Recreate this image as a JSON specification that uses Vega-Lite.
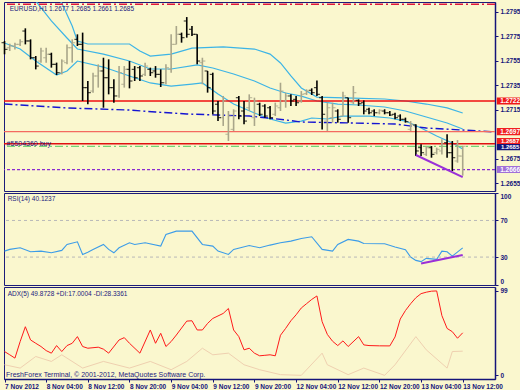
{
  "$schema": "https://vega.github.io/schema/vega-lite/v6.json",
  "background": "#FAF7CE",
  "padding": {"left": 1, "top": 1, "right": 0, "bottom": 0},
  "spacing": 2,
  "bounds": "flush",
  "data": {"values": [{"one": 1}]},
  "config": {
    "view": {"stroke": "#1C1C7A", "strokeWidth": 1},
    "axis": {"grid": false},
    "text": {"font": "Liberation Sans", "color": "#1A1A7E"}
  },
  "datasets": {
    "bars": [
      {"i":0,"o":1.27696,"h":1.27710,"l":1.27601,"c":1.27641},
      {"i":1,"o":1.27655,"h":1.27688,"l":1.27628,"c":1.27669},
      {"i":2,"o":1.27669,"h":1.27696,"l":1.27641,"c":1.27682},
      {"i":3,"o":1.27682,"h":1.27723,"l":1.27669,"c":1.27704},
      {"i":4,"o":1.27791,"h":1.27813,"l":1.27682,"c":1.27710},
      {"i":5,"o":1.27710,"h":1.27723,"l":1.27560,"c":1.27573},
      {"i":6,"o":1.27573,"h":1.27587,"l":1.27478,"c":1.27505},
      {"i":7,"o":1.27546,"h":1.27655,"l":1.27533,"c":1.27628},
      {"i":8,"o":1.27573,"h":1.27655,"l":1.27533,"c":1.27601},
      {"i":9,"o":1.27601,"h":1.27614,"l":1.27492,"c":1.27519},
      {"i":10,"o":1.27519,"h":1.27533,"l":1.27432,"c":1.27451},
      {"i":11,"o":1.27451,"h":1.27560,"l":1.27437,"c":1.27546},
      {"i":12,"o":1.27533,"h":1.27682,"l":1.27519,"c":1.27655},
      {"i":13,"o":1.27655,"h":1.27723,"l":1.27533,"c":1.27696},
      {"i":14,"o":1.27723,"h":1.27764,"l":1.27669,"c":1.27682},
      {"i":15,"o":1.27682,"h":1.27778,"l":1.27220,"c":1.27329},
      {"i":16,"o":1.27329,"h":1.27383,"l":1.27193,"c":1.27288},
      {"i":17,"o":1.27301,"h":1.27451,"l":1.27288,"c":1.27424},
      {"i":18,"o":1.27424,"h":1.27519,"l":1.27329,"c":1.27465},
      {"i":19,"o":1.27465,"h":1.27573,"l":1.27165,"c":1.27410},
      {"i":20,"o":1.27410,"h":1.27560,"l":1.27274,"c":1.27329},
      {"i":21,"o":1.27329,"h":1.27397,"l":1.27206,"c":1.27261},
      {"i":22,"o":1.27261,"h":1.27505,"l":1.27247,"c":1.27451},
      {"i":23,"o":1.27356,"h":1.27505,"l":1.27329,"c":1.27478},
      {"i":24,"o":1.27478,"h":1.27546,"l":1.27323,"c":1.27383},
      {"i":25,"o":1.27478,"h":1.27505,"l":1.27383,"c":1.27410},
      {"i":26,"o":1.27492,"h":1.27505,"l":1.27383,"c":1.27424},
      {"i":27,"o":1.27437,"h":1.27533,"l":1.27424,"c":1.27505},
      {"i":28,"o":1.27478,"h":1.27492,"l":1.27424,"c":1.27451},
      {"i":29,"o":1.27465,"h":1.27505,"l":1.27410,"c":1.27437},
      {"i":30,"o":1.27437,"h":1.27478,"l":1.27334,"c":1.27369},
      {"i":31,"o":1.27369,"h":1.27519,"l":1.27356,"c":1.27492},
      {"i":32,"o":1.27478,"h":1.27764,"l":1.27451,"c":1.27682},
      {"i":33,"o":1.27682,"h":1.27832,"l":1.27682,"c":1.27764},
      {"i":34,"o":1.27764,"h":1.27778,"l":1.27696,"c":1.27737},
      {"i":35,"o":1.27873,"h":1.27905,"l":1.27737,"c":1.27764},
      {"i":36,"o":1.27805,"h":1.27832,"l":1.27750,"c":1.27764},
      {"i":37,"o":1.27764,"h":1.27764,"l":1.27519,"c":1.27546},
      {"i":38,"o":1.27533,"h":1.27573,"l":1.27356,"c":1.27546},
      {"i":39,"o":1.27465,"h":1.27465,"l":1.27288,"c":1.27329},
      {"i":40,"o":1.27437,"h":1.27451,"l":1.27111,"c":1.27138},
      {"i":41,"o":1.27193,"h":1.27220,"l":1.27056,"c":1.27084},
      {"i":42,"o":1.27084,"h":1.27261,"l":1.27016,"c":1.27220},
      {"i":43,"o":1.26948,"h":1.27138,"l":1.26893,"c":1.27097},
      {"i":44,"o":1.26988,"h":1.27152,"l":1.26975,"c":1.27138},
      {"i":45,"o":1.27247,"h":1.27261,"l":1.27070,"c":1.27097},
      {"i":46,"o":1.27138,"h":1.27220,"l":1.27029,"c":1.27056},
      {"i":47,"o":1.27165,"h":1.27274,"l":1.27138,"c":1.27247},
      {"i":48,"o":1.27084,"h":1.27247,"l":1.27016,"c":1.27220},
      {"i":49,"o":1.27193,"h":1.27206,"l":1.27097,"c":1.27111},
      {"i":50,"o":1.27179,"h":1.27193,"l":1.27084,"c":1.27097},
      {"i":51,"o":1.27165,"h":1.27179,"l":1.27070,"c":1.27084},
      {"i":52,"o":1.27111,"h":1.27206,"l":1.27097,"c":1.27179},
      {"i":53,"o":1.27165,"h":1.27369,"l":1.27138,"c":1.27301},
      {"i":54,"o":1.27220,"h":1.27288,"l":1.27165,"c":1.27261},
      {"i":55,"o":1.27261,"h":1.27274,"l":1.27179,"c":1.27220},
      {"i":56,"o":1.27233,"h":1.27261,"l":1.27179,"c":1.27206},
      {"i":57,"o":1.27220,"h":1.27301,"l":1.27206,"c":1.27274},
      {"i":58,"o":1.27280,"h":1.27315,"l":1.27269,"c":1.27301},
      {"i":59,"o":1.27307,"h":1.27323,"l":1.27269,"c":1.27288},
      {"i":60,"o":1.27329,"h":1.27388,"l":1.27261,"c":1.27274},
      {"i":61,"o":1.27247,"h":1.27261,"l":1.26988,"c":1.27111},
      {"i":62,"o":1.27056,"h":1.27206,"l":1.26975,"c":1.27165},
      {"i":63,"o":1.27084,"h":1.27206,"l":1.27043,"c":1.27165},
      {"i":64,"o":1.27138,"h":1.27152,"l":1.27043,"c":1.27070},
      {"i":65,"o":1.27097,"h":1.27296,"l":1.27097,"c":1.27261},
      {"i":66,"o":1.27247,"h":1.27247,"l":1.27043,"c":1.27084},
      {"i":67,"o":1.27206,"h":1.27342,"l":1.27193,"c":1.27288},
      {"i":68,"o":1.27225,"h":1.27233,"l":1.27179,"c":1.27198},
      {"i":69,"o":1.27206,"h":1.27225,"l":1.27111,"c":1.27138},
      {"i":70,"o":1.27152,"h":1.27165,"l":1.27111,"c":1.27124},
      {"i":71,"o":1.27138,"h":1.27152,"l":1.27097,"c":1.27124},
      {"i":72,"o":1.27124,"h":1.27152,"l":1.27111,"c":1.27144},
      {"i":73,"o":1.27138,"h":1.27152,"l":1.27111,"c":1.27124},
      {"i":74,"o":1.27124,"h":1.27138,"l":1.27097,"c":1.27105},
      {"i":75,"o":1.27111,"h":1.27124,"l":1.27070,"c":1.27084},
      {"i":76,"o":1.27097,"h":1.27111,"l":1.27056,"c":1.27070},
      {"i":77,"o":1.27070,"h":1.27084,"l":1.27043,"c":1.27051},
      {"i":78,"o":1.26988,"h":1.27056,"l":1.26975,"c":1.27029},
      {"i":79,"o":1.27024,"h":1.27029,"l":1.26771,"c":1.26812},
      {"i":80,"o":1.26839,"h":1.26866,"l":1.26771,"c":1.26798},
      {"i":81,"o":1.26784,"h":1.26852,"l":1.26771,"c":1.26839},
      {"i":82,"o":1.26839,"h":1.26852,"l":1.26757,"c":1.26784},
      {"i":83,"o":1.26798,"h":1.26839,"l":1.26784,"c":1.26825},
      {"i":84,"o":1.26812,"h":1.26907,"l":1.26784,"c":1.26866},
      {"i":85,"o":1.26880,"h":1.26948,"l":1.26757,"c":1.26798},
      {"i":86,"o":1.26798,"h":1.26893,"l":1.26648,"c":1.26757},
      {"i":87,"o":1.26730,"h":1.26901,"l":1.26716,"c":1.26771},
      {"i":88,"o":1.2677,"h":1.2685,"l":1.2661,"c":1.2685}
    ],
    "bands": [
      {"i":0,"b":"upper","p":1.28607},{"i":5,"b":"upper","p":1.28322},{"i":8,"b":"upper","p":1.28158},{"i":11,"b":"upper","p":1.28020},{"i":13,"b":"upper","p":1.27832},{"i":14,"b":"upper","p":1.27710},{"i":16,"b":"upper","p":1.27685},{"i":24,"b":"upper","p":1.27685},{"i":26,"b":"upper","p":1.27628},{"i":28,"b":"upper","p":1.27587},{"i":32,"b":"upper","p":1.27603},{"i":36,"b":"upper","p":1.27652},{"i":42,"b":"upper","p":1.27661},{"i":48,"b":"upper","p":1.27644},{"i":51,"b":"upper","p":1.27603},{"i":53,"b":"upper","p":1.27530},{"i":55,"b":"upper","p":1.27424},{"i":57,"b":"upper","p":1.27326},{"i":60,"b":"upper","p":1.27252},{"i":67,"b":"upper","p":1.27244},{"i":73,"b":"upper","p":1.27236},{"i":77,"b":"upper","p":1.27220},{"i":81,"b":"upper","p":1.27195},{"i":85,"b":"upper","p":1.27163},{"i":88,"b":"upper","p":1.27122},
      {"i":0,"b":"middle","p":1.28158},{"i":6,"b":"middle","p":1.28036},{"i":9,"b":"middle","p":1.27873},{"i":12,"b":"middle","p":1.27734},{"i":14,"b":"middle","p":1.27644},{"i":19,"b":"middle","p":1.27603},{"i":24,"b":"middle","p":1.27546},{"i":28,"b":"middle","p":1.27481},{"i":32,"b":"middle","p":1.27481},{"i":37,"b":"middle","p":1.27514},{"i":40,"b":"middle","p":1.27489},{"i":44,"b":"middle","p":1.27440},{"i":48,"b":"middle","p":1.27383},{"i":51,"b":"middle","p":1.27326},{"i":54,"b":"middle","p":1.27285},{"i":57,"b":"middle","p":1.27260},{"i":60,"b":"middle","p":1.27220},{"i":64,"b":"middle","p":1.27195},{"i":68,"b":"middle","p":1.27187},{"i":73,"b":"middle","p":1.27171},{"i":77,"b":"middle","p":1.27138},{"i":81,"b":"middle","p":1.27089},{"i":85,"b":"middle","p":1.27040},{"i":88,"b":"middle","p":1.26991},
      {"i":0,"b":"lower","p":1.27693},{"i":3,"b":"lower","p":1.27644},{"i":6,"b":"lower","p":1.27546},{"i":10,"b":"lower","p":1.27432},{"i":12,"b":"lower","p":1.27465},{"i":14,"b":"lower","p":1.27546},{"i":19,"b":"lower","p":1.27497},{"i":24,"b":"lower","p":1.27424},{"i":28,"b":"lower","p":1.27367},{"i":32,"b":"lower","p":1.27342},{"i":36,"b":"lower","p":1.27358},{"i":38,"b":"lower","p":1.27367},{"i":41,"b":"lower","p":1.27277},{"i":44,"b":"lower","p":1.27195},{"i":48,"b":"lower","p":1.27122},{"i":51,"b":"lower","p":1.27073},{"i":54,"b":"lower","p":1.27040},{"i":57,"b":"lower","p":1.27056},{"i":59,"b":"lower","p":1.27081},{"i":62,"b":"lower","p":1.27073},{"i":65,"b":"lower","p":1.27097},{"i":70,"b":"lower","p":1.27097},{"i":74,"b":"lower","p":1.27081},{"i":77,"b":"lower","p":1.27056},{"i":80,"b":"lower","p":1.26999},{"i":83,"b":"lower","p":1.26934},{"i":86,"b":"lower","p":1.26877},{"i":88,"b":"lower","p":1.26828}
    ],
    "ma": [
      {"i":0,"p":1.27195},{"i":12,"p":1.27163},{"i":24,"p":1.27146},{"i":29,"p":1.27130},{"i":35,"p":1.27114},{"i":41,"p":1.27105},{"i":47,"p":1.27097},{"i":54,"p":1.27065},{"i":57,"p":1.27048},{"i":67,"p":1.27040},{"i":75,"p":1.27032},{"i":81,"p":1.26999},{"i":88,"p":1.26983},{"i":94,"p":1.26967}
    ],
    "rsi": [
      {"i":0,"v":36.5},{"i":1,"v":38.4},{"i":3,"v":40.2},{"i":5,"v":35.8},{"i":7,"v":36.5},{"i":9,"v":34.7},{"i":11,"v":37.3},{"i":12,"v":43.8},{"i":14,"v":46.7},{"i":15,"v":32.9},{"i":16,"v":35.4},{"i":17,"v":38.4},{"i":19,"v":43.8},{"i":20,"v":38.4},{"i":21,"v":34.7},{"i":22,"v":40.2},{"i":24,"v":45.6},{"i":25,"v":43.8},{"i":27,"v":45.6},{"i":30,"v":42.0},{"i":31,"v":54.7},{"i":33,"v":58.3},{"i":36,"v":58.3},{"i":38,"v":43.8},{"i":40,"v":42.0},{"i":41,"v":36.5},{"i":43,"v":32.9},{"i":44,"v":38.4},{"i":47,"v":42.7},{"i":49,"v":40.2},{"i":51,"v":43.1},{"i":53,"v":45.6},{"i":55,"v":47.4},{"i":57,"v":50.3},{"i":59,"v":52.2},{"i":61,"v":38.4},{"i":63,"v":36.5},{"i":64,"v":43.8},{"i":66,"v":49.3},{"i":68,"v":47.4},{"i":69,"v":44.9},{"i":73,"v":44.5},{"i":75,"v":41.0},{"i":77,"v":38.0},{"i":78,"v":30.0},{"i":79,"v":26.4},{"i":80,"v":25.0},{"i":81,"v":28.6},{"i":83,"v":27.5},{"i":84,"v":36.5},{"i":85,"v":35.8},{"i":86,"v":31.1},{"i":88,"v":40.1237}
    ],
    "adx": [
      {"i":0,"v":27.9},{"i":1,"v":24.1},{"i":2,"v":20.2},{"i":3,"v":39.6},{"i":4,"v":57},{"i":5,"v":41.5},{"i":6,"v":37.6},{"i":7,"v":33.8},{"i":8,"v":29},{"i":9,"v":26},{"i":10,"v":34.9},{"i":11,"v":27.9},{"i":12,"v":34.9},{"i":13,"v":37.6},{"i":14,"v":45.4},{"i":15,"v":33.8},{"i":16,"v":31.8},{"i":18,"v":33},{"i":19,"v":30.7},{"i":20,"v":26},{"i":22,"v":41.5},{"i":23,"v":44.2},{"i":24,"v":37.6},{"i":26,"v":26},{"i":28,"v":53.2},{"i":29,"v":37.6},{"i":30,"v":49.3},{"i":31,"v":33.8},{"i":32,"v":39.6},{"i":33,"v":47.3},{"i":35,"v":63.6},{"i":36,"v":64},{"i":37,"v":53.2},{"i":38,"v":53.2},{"i":39,"v":60.9},{"i":40,"v":66.7},{"i":42,"v":72.6},{"i":43,"v":78.4},{"i":44,"v":53.2},{"i":45,"v":45.4},{"i":46,"v":29.9},{"i":47,"v":31.8},{"i":48,"v":26},{"i":49,"v":22.9},{"i":50,"v":23.5},{"i":51,"v":24.1},{"i":52,"v":22.9},{"i":53,"v":47},{"i":54,"v":55.1},{"i":55,"v":64},{"i":56,"v":71},{"i":57,"v":79},{"i":58,"v":84},{"i":59,"v":89},{"i":60,"v":93.1},{"i":61,"v":62.9},{"i":62,"v":48},{"i":63,"v":40},{"i":64,"v":34.9},{"i":65,"v":40.4},{"i":66,"v":33.8},{"i":68,"v":45.4},{"i":69,"v":35.7},{"i":70,"v":34.9},{"i":72,"v":34.6},{"i":74,"v":34.5},{"i":75,"v":45},{"i":76,"v":66},{"i":77,"v":76},{"i":78,"v":84},{"i":79,"v":91},{"i":80,"v":95.8},{"i":81,"v":97.5},{"i":82,"v":98.7},{"i":83,"v":99},{"i":84,"v":70},{"i":85,"v":55},{"i":86,"v":51.2},{"i":87,"v":43.5},{"i":88,"v":49.8728}
    ],
    "di": [
      {"i":0,"v":12.4},{"i":3,"v":8.5},{"i":6,"v":22.1},{"i":9,"v":16.3},{"i":11,"v":24.1},{"i":15,"v":8.5},{"i":19,"v":16.3},{"i":24,"v":8.5},{"i":28,"v":16.3},{"i":32,"v":6.6},{"i":35,"v":16.3},{"i":38,"v":31.8},{"i":40,"v":24.1},{"i":43,"v":26},{"i":46,"v":12.4},{"i":49,"v":6.6},{"i":53,"v":0.8},{"i":57,"v":0},{"i":61,"v":26},{"i":62,"v":12.4},{"i":66,"v":0.8},{"i":69,"v":8.5},{"i":73,"v":0},{"i":75,"v":12.4},{"i":79,"v":45.4},{"i":81,"v":29.9},{"i":85,"v":8.5},{"i":86,"v":27.9},{"i":88,"v":28.3361}
    ],
    "ptrend": [{"i":79,"p":1.26779},{"i":88,"p":1.26599}],
    "rtrend": [{"i":80,"v":23.1},{"i":88,"v":32.2}]
  },
  "vconcat": [
    {
      "width": 491,
      "height": 189,
      "resolve": {"axis": {"x": "independent", "y": "independent"}},
      "layer": [
        {
          "data": {"name": "bands"},
          "mark": {"type": "line", "clip": true, "color": "#3CB4E6", "strokeWidth": 1.2},
          "encoding": {
            "x": {"field": "i", "type": "quantitative", "scale": {"domain": [-0.1, 94.2], "nice": false, "zero": false}, "axis": null},
            "y": {"field": "p", "type": "quantitative", "scale": {"domain": [1.26485, 1.28028], "nice": false, "zero": false},
                  "axis": {"orient": "right", "title": null, "grid": false, "values": [1.2655, 1.2675, 1.2715, 1.2735, 1.2755, 1.2775, 1.2795], "format": ".4f", "labelFont": "Liberation Sans", "labelFontSize": 6.5, "labelFontWeight": "bold", "labelColor": "#14147A", "domainColor": "#14147A", "tickColor": "#14147A", "domainWidth": 1.5, "tickSize": 3, "labelPadding": 2, "labelOverlap": false, "labelBound": false, "labelFlush": false, "zindex": 0}},
            "detail": {"field": "b", "type": "nominal"}
          }
        },
        {
          "data": {"name": "ma"},
          "mark": {"type": "line", "clip": true, "color": "#1414D2", "strokeWidth": 1.4, "strokeDash": [8, 3, 2, 3]},
          "encoding": {
            "x": {"field": "i", "type": "quantitative", "axis": null},
            "y": {"field": "p", "type": "quantitative", "axis": null}
          }
        },
        {"mark": {"type": "rule", "color": "#E0183C", "strokeWidth": 1.5, "strokeDash": [8, 3, 2, 3]}, "encoding": {"y": {"datum": 1.2801, "type": "quantitative", "axis": null}}},
        {"mark": {"type": "rule", "color": "#F01010", "strokeWidth": 1.5}, "encoding": {"y": {"datum": 1.2722, "type": "quantitative", "axis": null}}},
        {"mark": {"type": "rule", "color": "#F46A60", "strokeWidth": 1.3}, "encoding": {"y": {"datum": 1.2697, "type": "quantitative", "axis": null}}},
        {"mark": {"type": "rule", "color": "#E01010", "strokeWidth": 1.5}, "encoding": {"y": {"datum": 1.2687, "type": "quantitative", "axis": null}}},
        {"mark": {"type": "rule", "color": "#74D474", "strokeWidth": 1.2, "strokeDash": [8, 3, 2, 3]}, "encoding": {"y": {"datum": 1.2685, "type": "quantitative", "axis": null}}},
        {"mark": {"type": "rule", "color": "#8A2BD2", "strokeWidth": 1.2, "strokeDash": [3, 2]}, "encoding": {"y": {"datum": 1.2666, "type": "quantitative", "axis": null}}},
        {
          "data": {"name": "bars"},
          "transform": [{"calculate": "datum.c >= datum.o ? 'up' : 'down'", "as": "dir"}],
          "encoding": {
            "x": {"field": "i", "type": "quantitative", "axis": null},
            "color": {"field": "dir", "type": "nominal", "scale": {"domain": ["up", "down"], "range": ["#A9A68A", "#000000"]}, "legend": null}
          },
          "layer": [
            {
              "mark": {"type": "rule", "strokeWidth": 1.6},
              "encoding": {
                "y": {"field": "l", "type": "quantitative", "axis": null},
                "y2": {"field": "h"}
              }
            },
            {
              "mark": {"type": "tick", "orient": "horizontal", "size": 3, "thickness": 1.2, "xOffset": -1.5},
              "encoding": {"y": {"field": "o", "type": "quantitative", "axis": null}}
            },
            {
              "mark": {"type": "tick", "orient": "horizontal", "size": 3, "thickness": 1.2, "xOffset": 1.5},
              "encoding": {"y": {"field": "c", "type": "quantitative", "axis": null}}
            }
          ]
        },
        {
          "data": {"name": "ptrend"},
          "mark": {"type": "line", "color": "#9A30D8", "strokeWidth": 2},
          "encoding": {
            "x": {"field": "i", "type": "quantitative", "axis": null},
            "y": {"field": "p", "type": "quantitative", "axis": null}
          }
        },
        {
          "mark": {"type": "text", "align": "left", "baseline": "middle", "fontSize": 6.5},
          "encoding": {
            "x": {"datum": 1.0, "type": "quantitative", "axis": null},
            "y": {"datum": 1.2797, "type": "quantitative", "axis": null},
            "text": {"value": "EURUSD,H1  1.2677 1.2685 1.2661 1.2685"}
          }
        },
        {
          "mark": {"type": "text", "align": "left", "baseline": "middle", "fontSize": 7},
          "encoding": {
            "x": {"datum": 0.4, "type": "quantitative", "axis": null},
            "y": {"datum": 1.2687, "type": "quantitative", "axis": null},
            "text": {"value": "#5504360 buy"}
          }
        },
        {"mark": {"type": "rect", "color": "#F01818"}, "encoding": {"x": {"datum": 94.55, "type": "quantitative", "axis": null}, "x2": {"datum": 99.6}, "y": {"datum": 1.27249, "type": "quantitative", "axis": null}, "y2": {"datum": 1.27191}}},
        {"mark": {"type": "text", "color": "#FFFFFF", "fontSize": 6.5, "fontWeight": "bold", "align": "center", "baseline": "middle"}, "encoding": {"x": {"datum": 97.1, "type": "quantitative", "axis": null}, "y": {"datum": 1.2722, "type": "quantitative", "axis": null}, "text": {"value": "1.2722"}}},
        {"mark": {"type": "rect", "color": "#F02020"}, "encoding": {"x": {"datum": 94.55, "type": "quantitative", "axis": null}, "x2": {"datum": 99.6}, "y": {"datum": 1.26999, "type": "quantitative", "axis": null}, "y2": {"datum": 1.26941}}},
        {"mark": {"type": "text", "color": "#FFFFFF", "fontSize": 6.5, "fontWeight": "bold", "align": "center", "baseline": "middle"}, "encoding": {"x": {"datum": 97.1, "type": "quantitative", "axis": null}, "y": {"datum": 1.2697, "type": "quantitative", "axis": null}, "text": {"value": "1.2697"}}},
        {"mark": {"type": "rect", "color": "#F02020"}, "encoding": {"x": {"datum": 94.55, "type": "quantitative", "axis": null}, "x2": {"datum": 99.6}, "y": {"datum": 1.26918, "type": "quantitative", "axis": null}, "y2": {"datum": 1.26869}}},
        {"mark": {"type": "text", "color": "#FFFFFF", "fontSize": 6, "fontWeight": "bold", "align": "center", "baseline": "middle"}, "encoding": {"x": {"datum": 97.1, "type": "quantitative", "axis": null}, "y": {"datum": 1.26895, "type": "quantitative", "axis": null}, "text": {"value": "1.2687"}}},
        {"mark": {"type": "rect", "color": "#14147A"}, "encoding": {"x": {"datum": 94.55, "type": "quantitative", "axis": null}, "x2": {"datum": 99.6}, "y": {"datum": 1.26869, "type": "quantitative", "axis": null}, "y2": {"datum": 1.26818}}},
        {"mark": {"type": "text", "color": "#FFFFFF", "fontSize": 6, "fontWeight": "bold", "align": "center", "baseline": "middle"}, "encoding": {"x": {"datum": 97.1, "type": "quantitative", "axis": null}, "y": {"datum": 1.26843, "type": "quantitative", "axis": null}, "text": {"value": "1.2685"}}},
        {"mark": {"type": "rect", "color": "#A070D8"}, "encoding": {"x": {"datum": 94.55, "type": "quantitative", "axis": null}, "x2": {"datum": 99.6}, "y": {"datum": 1.26689, "type": "quantitative", "axis": null}, "y2": {"datum": 1.26631}}},
        {"mark": {"type": "text", "color": "#FFFFFF", "fontSize": 6.5, "fontWeight": "bold", "align": "center", "baseline": "middle"}, "encoding": {"x": {"datum": 97.1, "type": "quantitative", "axis": null}, "y": {"datum": 1.2666, "type": "quantitative", "axis": null}, "text": {"value": "1.2666"}}}
      ]
    },
    {
      "width": 491,
      "height": 92,
      "resolve": {"axis": {"x": "independent", "y": "independent"}},
      "layer": [
        {
          "data": {"name": "rsi"},
          "mark": {"type": "line", "color": "#3C9CE8", "strokeWidth": 1.1},
          "encoding": {
            "x": {"field": "i", "type": "quantitative", "scale": {"domain": [-0.1, 94.2], "nice": false, "zero": false}, "axis": null},
            "y": {"field": "v", "type": "quantitative", "scale": {"domain": [-0.5, 100], "nice": false, "zero": false},
                  "axis": {"orient": "right", "title": null, "grid": false, "values": [0, 30, 70, 100], "labelBaseline": {"condition": [{"test": "datum.value >= 100", "value": "top"}, {"test": "datum.value <= 0", "value": "bottom"}], "value": "middle"}, "labelFont": "Liberation Sans", "labelFontSize": 6.5, "labelFontWeight": "bold", "labelColor": "#14147A", "domainColor": "#14147A", "tickColor": "#14147A", "domainWidth": 1.5, "tickSize": 3, "labelPadding": 2, "labelOverlap": false, "labelBound": false, "labelFlush": false}}
          }
        },
        {"mark": {"type": "rule", "color": "#B8B8B8", "strokeWidth": 1, "strokeDash": [3, 3]}, "encoding": {"y": {"datum": 70, "type": "quantitative", "axis": null}}},
        {"mark": {"type": "rule", "color": "#B8B8B8", "strokeWidth": 1, "strokeDash": [3, 3]}, "encoding": {"y": {"datum": 30, "type": "quantitative", "axis": null}}},
        {
          "data": {"name": "rtrend"},
          "mark": {"type": "line", "color": "#9A30D8", "strokeWidth": 2},
          "encoding": {
            "x": {"field": "i", "type": "quantitative", "axis": null},
            "y": {"field": "v", "type": "quantitative", "axis": null}
          }
        },
        {
          "mark": {"type": "text", "align": "left", "baseline": "middle", "fontSize": 6.5},
          "encoding": {
            "x": {"datum": 0.6, "type": "quantitative", "axis": null},
            "y": {"datum": 93, "type": "quantitative", "axis": null},
            "text": {"value": "RSI(14) 40.1237"}
          }
        }
      ]
    },
    {
      "width": 491,
      "height": 92,
      "resolve": {"axis": {"x": "independent", "y": "independent"}},
      "layer": [
        {
          "data": {"name": "adx"},
          "mark": {"type": "line", "color": "#FF1A1A", "strokeWidth": 1},
          "encoding": {
            "x": {"field": "i", "type": "quantitative", "scale": {"domain": [-0.1, 94.2], "nice": false, "zero": false},
                  "axis": {"orient": "bottom", "title": null, "grid": false, "values": [0, 8, 16, 24, 32, 40, 48, 56, 64, 72, 80, 88], "labelExpr": "['7 Nov 2012','8 Nov 04:00','8 Nov 12:00','8 Nov 20:00','9 Nov 04:00','9 Nov 12:00','9 Nov 20:00','12 Nov 04:00','12 Nov 12:00','12 Nov 20:00','13 Nov 04:00','13 Nov 12:00'][round(datum.value/8)]", "labelAlign": "left", "labelOverlap": false, "labelFlush": false, "labelBound": false, "labelFont": "Liberation Sans", "labelFontSize": 6.5, "labelFontWeight": "bold", "labelColor": "#14147A", "domainColor": "#14147A", "tickColor": "#14147A", "domainWidth": 1.5, "tickSize": 3, "labelPadding": 1}},
            "y": {"field": "v", "type": "quantitative", "scale": {"domain": [-4.3, 103.6], "nice": false, "zero": false},
                  "axis": {"orient": "right", "title": null, "grid": false, "values": [0, 99], "labelFont": "Liberation Sans", "labelFontSize": 6.5, "labelFontWeight": "bold", "labelColor": "#14147A", "domainColor": "#14147A", "tickColor": "#14147A", "domainWidth": 1.5, "tickSize": 3, "labelPadding": 2, "labelOverlap": false, "labelBound": false, "labelFlush": false}}
          }
        },
        {
          "data": {"name": "di"},
          "mark": {"type": "line", "color": "#EFD0B0", "strokeWidth": 1},
          "encoding": {
            "x": {"field": "i", "type": "quantitative", "axis": null},
            "y": {"field": "v", "type": "quantitative", "axis": null}
          }
        },
        {
          "mark": {"type": "text", "align": "left", "baseline": "middle", "fontSize": 6.5},
          "encoding": {
            "x": {"datum": 0.6, "type": "quantitative", "axis": null},
            "y": {"datum": 95.5, "type": "quantitative", "axis": null},
            "text": {"value": "ADX(5) 49.8728 +DI:17.0004 -DI:28.3361"}
          }
        },
        {
          "mark": {"type": "text", "align": "left", "baseline": "middle", "fontSize": 7},
          "encoding": {
            "x": {"datum": 0.3, "type": "quantitative", "axis": null},
            "y": {"datum": 0.5, "type": "quantitative", "axis": null},
            "text": {"value": "FreshForex Terminal, © 2001-2012, MetaQuotes Software Corp."}
          }
        }
      ]
    }
  ]
}
